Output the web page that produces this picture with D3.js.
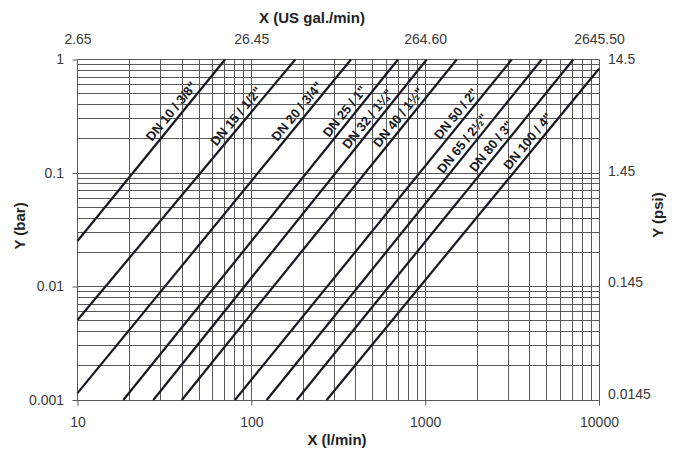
<!DOCTYPE html>
<html>
<head>
<meta charset="utf-8">
<script src="https://cdn.jsdelivr.net/npm/d3@7"></script>
<style>
  html, body { margin: 0; padding: 0; background: #fff; }
  svg { display: block; font-family: "Liberation Sans", Arial, sans-serif; }
</style>
</head>
<body>
<svg id="chart" width="683" height="450"></svg>
<script>
// ---------- data ----------
const xTicks = [10, 100, 1000, 10000];              // l/min
const xTickLabels = ["10", "100", "1000", "10000"];
const galTickLabels = ["2.65", "26.45", "264.60", "2645.50"];
const barTicks = [0.001, 0.01, 0.1, 1];
const barTickLabels = ["0.001", "0.01", "0.1", "1"];
const psiTicks = [0.0145, 0.145, 1.45, 14.5];
const psiTickLabels = ["0.0145", "0.145", "1.45", "14.5"];

const seriesNames = ["DN 10 / 3/8\"", "DN 15 / 1/2\"", "DN 20 / 3/4\"", "DN 25 / 1\"",
  "DN 32 / 1\u00BC\"", "DN 40 / 1\u00BD\"", "DN 50 / 2\"", "DN 65 / 2\u00BD\"",
  "DN 80 / 3\"", "DN 100 / 4\""];
// each line read at its two ends (flow l/min, pressure drop bar)
const flowStart = [10, 10, 10, 18.35, 27.3, 39.8, 80.5, 122.6, 182.4, 271.4];
const dpStart   = [0.0252, 0.00507, 0.00115, 0.001, 0.001, 0.001, 0.001, 0.001, 0.001, 0.001];
const flowEnd   = [70.6, 179, 374.5, 698, 1021, 1519, 3148, 4682, 7116, 10000];
const dpEnd     = [1, 1, 1, 1, 1, 1, 1, 1, 1, 0.83];

// ---------- layout ----------
const pL = 77.5, pR = 599, pT = 59.5, pB = 400;
const labelFootY = [117, 122, 117, 117, 124.5, 123, 119.5, 149, 152, 147]; // px along each line

const svg = d3.select("#chart");
const x = d3.scaleLog().domain([10, 10000]).range([pL, pR]);
const y = d3.scaleLog().domain([0.001, 1]).range([pB, pT]);
const yPsi = d3.scaleLog().domain([0.0145, 14.5]).range([pB - 6, pT]);

const crisp = v => Math.round(v - 0.5) + 0.5;

// grid
const gridColor = "#585858";
const g = svg.append("g");
g.selectAll("line.vx").data(x.ticks()).join("line")
  .attr("x1", d => crisp(x(d))).attr("x2", d => crisp(x(d)))
  .attr("y1", crisp(pT)).attr("y2", crisp(pB))
  .attr("stroke", gridColor).attr("stroke-width", 1);
g.selectAll("line.hy").data(y.ticks()).join("line")
  .attr("y1", d => crisp(y(d))).attr("y2", d => crisp(y(d)))
  .attr("x1", crisp(pL)).attr("x2", crisp(pR))
  .attr("stroke", gridColor).attr("stroke-width", 1);

// axes
const fontTick = 14;
function styleAxis(sel) {
  sel.select(".domain").remove();
  sel.selectAll(".tick line").attr("stroke", gridColor);
  sel.selectAll(".tick text").attr("fill", "#3a3a3a").style("font-size", fontTick + "px")
    .style("font-family", "'Liberation Sans', Arial, sans-serif");
}
svg.append("g").attr("transform", `translate(0,${crisp(pB)})`)
  .call(d3.axisBottom(x).tickValues(xTicks).tickFormat((d, i) => xTickLabels[i]).tickSize(5).tickPadding(12))
  .call(styleAxis);
svg.append("g").attr("transform", `translate(${crisp(pL)},0)`)
  .call(d3.axisLeft(y).tickValues(barTicks).tickFormat((d, i) => barTickLabels[i]).tickSize(5).tickPadding(8.5))
  .call(styleAxis);
svg.append("g").attr("transform", `translate(0,${pT})`)
  .call(d3.axisTop(x).tickValues(xTicks).tickFormat((d, i) => galTickLabels[i]).tickSize(0).tickPadding(15.5))
  .call(styleAxis);
svg.append("g").attr("transform", `translate(${pR},0)`)
  .call(d3.axisRight(yPsi).tickValues(psiTicks).tickFormat((d, i) => psiTickLabels[i]).tickSize(0).tickPadding(9))
  .call(styleAxis);

// axis titles
const titleStyle = s => s.attr("fill", "#222").style("font-size", "15px").style("font-weight", "bold");
svg.append("text").attr("x", 312).attr("y", 23).attr("text-anchor", "middle").text("X (US gal./min)").call(titleStyle);
svg.append("text").attr("x", 337).attr("y", 445).attr("text-anchor", "middle").text("X (l/min)").call(titleStyle);
svg.append("text").attr("transform", "translate(25,226) rotate(-90)").attr("text-anchor", "middle").text("Y (bar)").call(titleStyle);
svg.append("text").attr("transform", "translate(663,215) rotate(-90)").attr("text-anchor", "middle").text("Y (psi)").call(titleStyle);

// series lines
const lineGen = d3.line().x(d => x(d[0])).y(d => y(d[1]));
const lines = seriesNames.map((n, i) => ({
  name: n,
  pts: [[flowStart[i], dpStart[i]], [flowEnd[i], dpEnd[i]]]
}));
svg.append("g").selectAll("path").data(lines).join("path")
  .attr("d", d => lineGen(d.pts))
  .attr("fill", "none").attr("stroke", "#181822").attr("stroke-width", 2.2);

// labels along lines
svg.append("g").selectAll("text").data(lines).join("text")
  .attr("transform", (d, i) => {
    const x0 = x(d.pts[0][0]), y0 = y(d.pts[0][1]);
    const x1 = x(d.pts[1][0]), y1 = y(d.pts[1][1]);
    const fy = labelFootY[i];
    const fx = x0 + (fy - y0) * (x1 - x0) / (y1 - y0);
    const ang = Math.atan2(y1 - y0, x1 - x0) * 180 / Math.PI;
    return `translate(${fx},${fy}) rotate(${ang})`;
  })
  .attr("text-anchor", "middle").attr("dy", -4.5)
  .attr("fill", "#181822").style("font-size", "13px").style("font-weight", "bold")
  .text(d => d.name);
</script>
</body>
</html>
